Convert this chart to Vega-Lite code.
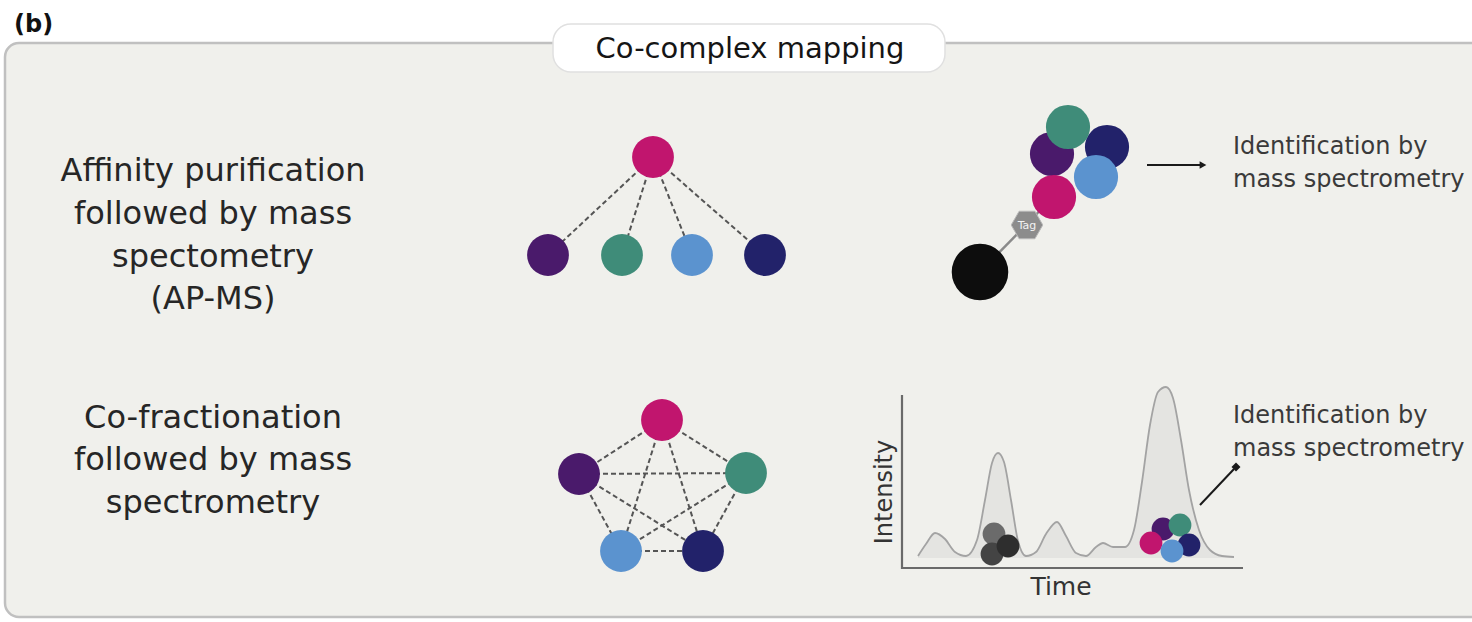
{
  "$schema": "https://vega.github.io/schema/vega-lite/v6.json",
  "width": 1472,
  "height": 622,
  "autosize": {"type": "fit", "contains": "padding"},
  "padding": 0,
  "background": "#ffffff",
  "config": {"view": {"stroke": null}, "axis": {"disable": true}},
  "layer": [
    {
      "data": {"values": [{"part": "panel", "x": 5, "y": 43, "x2": 1495, "y2": 617}]},
      "mark": {"type": "rect", "fill": "#f0f0ec", "stroke": "#c0c0c0", "strokeWidth": 2.5, "cornerRadius": 14, "clip": true},
      "encoding": {
        "x": {"field": "x", "type": "quantitative", "scale": {"domain": [0, 1472], "nice": false, "zero": false}, "axis": null},
        "x2": {"field": "x2"},
        "y": {"field": "y", "type": "quantitative", "scale": {"domain": [0, 622], "reverse": true, "nice": false, "zero": false}, "axis": null},
        "y2": {"field": "y2"}
      }
    },
    {
      "data": {"values": [{"part": "title box", "x": 553, "y": 24, "x2": 945, "y2": 72}]},
      "mark": {"type": "rect", "fill": "#ffffff", "stroke": "#e0e0e0", "strokeWidth": 1.5, "cornerRadius": 18},
      "encoding": {
        "x": {"field": "x", "type": "quantitative", "axis": null},
        "x2": {"field": "x2"},
        "y": {"field": "y", "type": "quantitative", "axis": null},
        "y2": {"field": "y2"}
      }
    },
    {
      "data": {"values": [{"label": "Co-complex mapping", "x": 750, "y": 58}]},
      "mark": {"type": "text", "font": "DejaVu Sans", "fontSize": 29, "fill": "#151515", "align": "center", "baseline": "alphabetic"},
      "encoding": {
        "x": {"field": "x", "type": "quantitative", "axis": null},
        "y": {"field": "y", "type": "quantitative", "axis": null},
        "text": {"field": "label"}
      }
    },
    {
      "data": {"values": [{"label": "(b)", "x": 14, "y": 32}]},
      "mark": {"type": "text", "font": "DejaVu Sans", "fontWeight": "bold", "fontSize": 24, "fill": "#111111", "align": "left", "baseline": "alphabetic"},
      "encoding": {
        "x": {"field": "x", "type": "quantitative", "axis": null},
        "y": {"field": "y", "type": "quantitative", "axis": null},
        "text": {"field": "label"}
      }
    },
    {
      "data": {"values": [
        {"label": "Affinity purification", "x": 213, "y": 181},
        {"label": "followed by mass", "x": 213, "y": 224},
        {"label": "spectometry", "x": 213, "y": 267},
        {"label": "(AP-MS)", "x": 213, "y": 309},
        {"label": "Co-fractionation", "x": 213, "y": 428},
        {"label": "followed by mass", "x": 213, "y": 470},
        {"label": "spectrometry", "x": 213, "y": 513}
      ]},
      "mark": {"type": "text", "font": "DejaVu Sans", "fontSize": 32, "fill": "#262626", "align": "center", "baseline": "alphabetic"},
      "encoding": {
        "x": {"field": "x", "type": "quantitative", "axis": null},
        "y": {"field": "y", "type": "quantitative", "axis": null},
        "text": {"field": "label"}
      }
    },
    {
      "data": {"values": [
        {"edge": "A-B", "x": 653, "y": 157, "x2": 548, "y2": 255},
        {"edge": "A-C", "x": 653, "y": 157, "x2": 622, "y2": 255},
        {"edge": "A-D", "x": 653, "y": 157, "x2": 692, "y2": 255},
        {"edge": "A-E", "x": 653, "y": 157, "x2": 765, "y2": 255},
        {"edge": "M-P", "x": 662, "y": 420, "x2": 579, "y2": 474},
        {"edge": "M-G", "x": 662, "y": 420, "x2": 746, "y2": 473},
        {"edge": "M-L", "x": 662, "y": 420, "x2": 621, "y2": 551},
        {"edge": "M-N", "x": 662, "y": 420, "x2": 703, "y2": 551},
        {"edge": "P-G", "x": 579, "y": 474, "x2": 746, "y2": 473},
        {"edge": "P-L", "x": 579, "y": 474, "x2": 621, "y2": 551},
        {"edge": "P-N", "x": 579, "y": 474, "x2": 703, "y2": 551},
        {"edge": "G-L", "x": 746, "y": 473, "x2": 621, "y2": 551},
        {"edge": "G-N", "x": 746, "y": 473, "x2": 703, "y2": 551},
        {"edge": "L-N", "x": 621, "y": 551, "x2": 703, "y2": 551}
      ]},
      "mark": {"type": "rule", "stroke": "#555555", "strokeWidth": 2, "strokeDash": [5, 3]},
      "encoding": {
        "x": {"field": "x", "type": "quantitative", "axis": null},
        "y": {"field": "y", "type": "quantitative", "axis": null},
        "x2": {"field": "x2"},
        "y2": {"field": "y2"}
      }
    },
    {
      "data": {"values": [
        {"link": "bead-tag", "x": 980, "y": 272, "x2": 1027, "y2": 224},
        {"link": "tag-bait", "x": 1027, "y": 224, "x2": 1053, "y2": 197}
      ]},
      "mark": {"type": "rule", "stroke": "#8a8a8a", "strokeWidth": 2.5},
      "encoding": {
        "x": {"field": "x", "type": "quantitative", "axis": null},
        "y": {"field": "y", "type": "quantitative", "axis": null},
        "x2": {"field": "x2"},
        "y2": {"field": "y2"}
      }
    },
    {
      "data": {"name": "trace", "values": [
        {"x": 918, "y": 556}, {"x": 926, "y": 544}, {"x": 935, "y": 533}, {"x": 945, "y": 539},
        {"x": 955, "y": 552}, {"x": 966, "y": 556}, {"x": 977, "y": 540}, {"x": 985, "y": 500},
        {"x": 992, "y": 463}, {"x": 998, "y": 453}, {"x": 1004, "y": 462}, {"x": 1011, "y": 500},
        {"x": 1018, "y": 541}, {"x": 1026, "y": 556}, {"x": 1036, "y": 552}, {"x": 1046, "y": 534},
        {"x": 1057, "y": 522}, {"x": 1066, "y": 536}, {"x": 1076, "y": 553}, {"x": 1086, "y": 556},
        {"x": 1096, "y": 547}, {"x": 1103, "y": 543}, {"x": 1113, "y": 547}, {"x": 1125, "y": 547},
        {"x": 1134, "y": 530}, {"x": 1142, "y": 482}, {"x": 1150, "y": 425}, {"x": 1158, "y": 392},
        {"x": 1166, "y": 387}, {"x": 1173, "y": 398}, {"x": 1181, "y": 440}, {"x": 1189, "y": 490},
        {"x": 1199, "y": 530}, {"x": 1210, "y": 550}, {"x": 1222, "y": 556}, {"x": 1234, "y": 557}
      ]},
      "layer": [
        {
          "mark": {"type": "area", "fill": "#e4e4e1", "interpolate": "monotone"},
          "encoding": {
            "x": {"field": "x", "type": "quantitative", "axis": null},
            "y": {"field": "y", "type": "quantitative", "axis": null},
            "y2": {"datum": 558}
          }
        },
        {
          "mark": {"type": "line", "stroke": "#a3a3a3", "strokeWidth": 1.8, "interpolate": "monotone"},
          "encoding": {
            "x": {"field": "x", "type": "quantitative", "axis": null},
            "y": {"field": "y", "type": "quantitative", "axis": null}
          }
        }
      ]
    },
    {
      "data": {"values": [
        {"axisline": "intensity", "x": 902, "y": 395, "x2": 902, "y2": 569},
        {"axisline": "time", "x": 901, "y": 568, "x2": 1243, "y2": 568}
      ]},
      "mark": {"type": "rule", "stroke": "#6a6a6a", "strokeWidth": 2.2},
      "encoding": {
        "x": {"field": "x", "type": "quantitative", "axis": null},
        "y": {"field": "y", "type": "quantitative", "axis": null},
        "x2": {"field": "x2"},
        "y2": {"field": "y2"}
      }
    },
    {
      "data": {"values": [
        {"protein": "bait", "x": 653, "y": 157},
        {"protein": "prey1", "x": 548, "y": 255},
        {"protein": "prey2", "x": 622, "y": 255},
        {"protein": "prey3", "x": 692, "y": 255},
        {"protein": "prey4", "x": 765, "y": 255},
        {"protein": "bait", "x": 662, "y": 420},
        {"protein": "prey1", "x": 579, "y": 474},
        {"protein": "prey2", "x": 746, "y": 473},
        {"protein": "prey3", "x": 621, "y": 551},
        {"protein": "prey4", "x": 703, "y": 551}
      ]},
      "mark": {"type": "point", "shape": "circle", "filled": true, "opacity": 1, "size": 1750, "strokeWidth": 0},
      "encoding": {
        "x": {"field": "x", "type": "quantitative", "axis": null},
        "y": {"field": "y", "type": "quantitative", "axis": null},
        "color": {"field": "protein", "type": "nominal", "legend": null,
          "scale": {"domain": ["bait", "prey1", "prey2", "prey3", "prey4", "bead", "g1", "g2", "g3"],
                    "range": ["#c1156e", "#4a1a6b", "#3f8c79", "#5b93cf", "#22226a", "#0d0d0d", "#6b6b6b", "#2e2e2e", "#444444"]}}
      }
    },
    {
      "data": {"values": [
        {"protein": "prey1", "x": 1052, "y": 154},
        {"protein": "prey4", "x": 1107, "y": 147},
        {"protein": "bait", "x": 1054, "y": 197},
        {"protein": "prey3", "x": 1096, "y": 177},
        {"protein": "prey2", "x": 1068, "y": 127}
      ]},
      "mark": {"type": "point", "shape": "circle", "filled": true, "opacity": 1, "size": 1950, "strokeWidth": 0},
      "encoding": {
        "x": {"field": "x", "type": "quantitative", "axis": null},
        "y": {"field": "y", "type": "quantitative", "axis": null},
        "color": {"field": "protein", "type": "nominal", "legend": null}
      }
    },
    {
      "data": {"values": [{"protein": "bead", "x": 980, "y": 272}]},
      "mark": {"type": "point", "shape": "circle", "filled": true, "opacity": 1, "size": 3200, "strokeWidth": 0},
      "encoding": {
        "x": {"field": "x", "type": "quantitative", "axis": null},
        "y": {"field": "y", "type": "quantitative", "axis": null},
        "color": {"field": "protein", "type": "nominal", "legend": null}
      }
    },
    {
      "data": {"values": [{"part": "tag", "x": 1027, "y": 225}]},
      "mark": {"type": "point", "shape": "M -1 0 L -0.5 -0.87 L 0.5 -0.87 L 1 0 L 0.5 0.87 L -0.5 0.87 Z", "filled": true, "opacity": 1, "size": 1000, "fill": "#8c8c8c", "stroke": "#b8b8b8", "strokeWidth": 1},
      "encoding": {
        "x": {"field": "x", "type": "quantitative", "axis": null},
        "y": {"field": "y", "type": "quantitative", "axis": null}
      }
    },
    {
      "data": {"values": [{"label": "Tag", "x": 1027, "y": 229}]},
      "mark": {"type": "text", "font": "DejaVu Sans", "fontSize": 11, "fill": "#f2f2f2", "align": "center", "baseline": "alphabetic"},
      "encoding": {
        "x": {"field": "x", "type": "quantitative", "axis": null},
        "y": {"field": "y", "type": "quantitative", "axis": null},
        "text": {"field": "label"}
      }
    },
    {
      "data": {"values": [
        {"protein": "g1", "x": 994, "y": 534},
        {"protein": "g3", "x": 992, "y": 554},
        {"protein": "g2", "x": 1008, "y": 546},
        {"protein": "prey1", "x": 1163, "y": 529},
        {"protein": "prey2", "x": 1180, "y": 525},
        {"protein": "bait", "x": 1151, "y": 543},
        {"protein": "prey4", "x": 1189, "y": 545},
        {"protein": "prey3", "x": 1172, "y": 551}
      ]},
      "mark": {"type": "point", "shape": "circle", "filled": true, "opacity": 1, "size": 520, "strokeWidth": 0},
      "encoding": {
        "x": {"field": "x", "type": "quantitative", "axis": null},
        "y": {"field": "y", "type": "quantitative", "axis": null},
        "color": {"field": "protein", "type": "nominal", "legend": null}
      }
    },
    {
      "data": {"values": [
        {"arrow": "top", "x": 1147, "y": 165, "x2": 1200, "y2": 165},
        {"arrow": "bottom", "x": 1200, "y": 505, "x2": 1234, "y2": 469}
      ]},
      "mark": {"type": "rule", "stroke": "#1a1a1a", "strokeWidth": 2},
      "encoding": {
        "x": {"field": "x", "type": "quantitative", "axis": null},
        "y": {"field": "y", "type": "quantitative", "axis": null},
        "x2": {"field": "x2"},
        "y2": {"field": "y2"}
      }
    },
    {
      "data": {"values": [{"arrow": "top", "x": 1203, "y": 165}]},
      "mark": {"type": "point", "shape": "triangle-right", "filled": true, "opacity": 1, "size": 60, "fill": "#1a1a1a", "strokeWidth": 0},
      "encoding": {
        "x": {"field": "x", "type": "quantitative", "axis": null},
        "y": {"field": "y", "type": "quantitative", "axis": null}
      }
    },
    {
      "data": {"values": [{"arrow": "bottom", "x": 1236, "y": 467}]},
      "mark": {"type": "point", "shape": "square", "filled": true, "opacity": 1, "size": 40, "angle": 45, "fill": "#1a1a1a", "strokeWidth": 0},
      "encoding": {
        "x": {"field": "x", "type": "quantitative", "axis": null},
        "y": {"field": "y", "type": "quantitative", "axis": null}
      }
    },
    {
      "data": {"values": [
        {"label": "Identification by", "x": 1233, "y": 154},
        {"label": "mass spectrometry", "x": 1233, "y": 187},
        {"label": "Identification by", "x": 1233, "y": 423},
        {"label": "mass spectrometry", "x": 1233, "y": 456}
      ]},
      "mark": {"type": "text", "font": "DejaVu Sans", "fontSize": 24, "fill": "#3a3a3a", "align": "left", "baseline": "alphabetic"},
      "encoding": {
        "x": {"field": "x", "type": "quantitative", "axis": null},
        "y": {"field": "y", "type": "quantitative", "axis": null},
        "text": {"field": "label"}
      }
    },
    {
      "data": {"values": [{"label": "Intensity", "x": 892, "y": 492}]},
      "mark": {"type": "text", "font": "DejaVu Sans", "fontSize": 24, "fill": "#333333", "align": "center", "baseline": "alphabetic", "angle": 270},
      "encoding": {
        "x": {"field": "x", "type": "quantitative", "axis": null},
        "y": {"field": "y", "type": "quantitative", "axis": null},
        "text": {"field": "label"}
      }
    },
    {
      "data": {"values": [{"label": "Time", "x": 1061, "y": 595}]},
      "mark": {"type": "text", "font": "DejaVu Sans", "fontSize": 25, "fill": "#333333", "align": "center", "baseline": "alphabetic"},
      "encoding": {
        "x": {"field": "x", "type": "quantitative", "axis": null},
        "y": {"field": "y", "type": "quantitative", "axis": null},
        "text": {"field": "label"}
      }
    }
  ]
}
